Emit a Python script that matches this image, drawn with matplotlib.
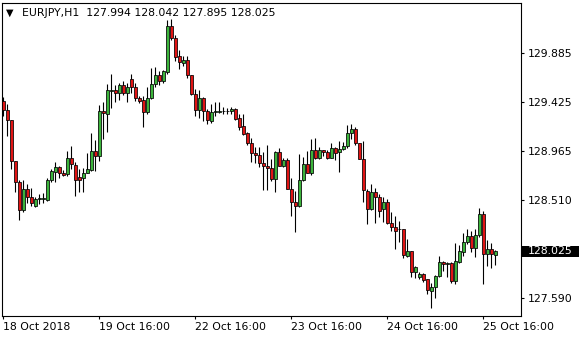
import matplotlib.pyplot as plt
import matplotlib.transforms as mtransforms
from matplotlib.patches import Rectangle

W, H = 580, 340

# EURJPY H1, one value per candle
opens = [
    129.437, 129.352, 129.258, 128.873, 128.676, 128.413, 128.610, 128.535, 128.451, 128.516,
    128.516, 128.507, 128.695, 128.770, 128.817, 128.761, 128.751, 128.901, 128.836, 128.723,
    128.714, 128.761, 128.789, 128.967, 128.920, 129.343, 129.315, 129.530, 129.540, 129.512,
    129.587, 129.512, 129.643, 129.568, 129.465, 129.446, 129.333, 129.465, 129.596, 129.681,
    129.624, 129.709, 130.141, 130.028, 129.859, 129.793, 129.822, 129.681, 129.502, 129.352,
    129.465, 129.343, 129.249, 129.338, 129.333, 129.343, 129.346, 129.343, 129.361, 129.277,
    129.202, 129.136, 129.042, 128.948, 128.930, 128.854, 128.826, 128.807, 128.704, 128.958,
    128.826, 128.883, 128.610, 128.488, 128.451, 128.695, 128.845, 128.761, 128.976, 128.901,
    128.976, 128.958, 128.901, 128.995, 128.958, 128.986, 129.014, 129.136, 129.174, 129.042,
    128.892, 128.592, 128.422, 128.582, 128.535, 128.422, 128.488, 128.291, 128.253, 128.235,
    128.235, 127.981, 128.028, 127.831, 127.784, 127.812, 127.765, 127.653, 127.690, 127.793,
    127.925, 127.906, 127.915, 127.746, 127.925, 128.019, 128.113, 128.169, 128.056, 128.178,
    128.376, 128.000, 128.047, 127.994,
]
highs = [
    129.474, 129.408, 129.258, 128.873, 128.695, 128.695, 128.657, 128.620, 128.535, 128.563,
    128.573, 128.714, 128.798, 128.864, 128.826, 128.789, 128.967, 129.014, 128.864, 128.798,
    128.807, 128.948, 129.136, 129.070, 129.399, 129.427, 129.596, 129.690, 129.587, 129.606,
    129.624, 129.606, 129.690, 129.606, 129.484, 129.484, 129.568, 129.746, 129.756, 129.718,
    129.728, 130.197, 130.207, 130.056, 129.915, 129.859, 129.859, 129.681, 129.549, 129.540,
    129.474, 129.361, 129.408, 129.427, 129.427, 129.380, 129.371, 129.380, 129.371, 129.315,
    129.315, 129.146, 129.089, 129.005, 129.005, 128.958, 129.023, 128.892, 128.967, 128.995,
    128.901, 128.901, 128.714, 128.592, 128.939, 128.911, 128.967, 129.080, 129.089, 129.005,
    128.976, 128.976, 129.042, 129.005, 129.061, 129.052, 129.211, 129.221, 129.192, 129.042,
    129.061, 128.610, 128.657, 128.620, 128.563, 128.535, 128.516, 128.394, 128.357, 128.310,
    128.235, 128.141, 128.028, 127.887, 127.831, 127.822, 127.765, 127.728, 127.803, 127.981,
    127.934, 127.925, 127.925, 128.103, 128.084, 128.197, 128.235, 128.216, 128.235, 128.432,
    128.404, 128.131, 128.103, 128.042,
]
lows = [
    129.296, 129.108, 128.798, 128.582, 128.319, 128.394, 128.479, 128.451, 128.441, 128.469,
    128.479, 128.498, 128.676, 128.676, 128.714, 128.732, 128.732, 128.798, 128.545, 128.582,
    128.582, 128.761, 128.779, 128.779, 128.873, 129.080, 129.146, 129.371, 129.427, 129.446,
    129.493, 129.427, 129.512, 129.437, 129.418, 129.192, 129.315, 129.455, 129.568, 129.587,
    129.606, 129.690, 130.009, 129.812, 129.737, 129.765, 129.653, 129.493, 129.296, 129.277,
    129.249, 129.221, 129.230, 129.296, 129.324, 129.315, 129.315, 129.315, 129.258, 129.164,
    129.117, 129.023, 128.864, 128.854, 128.817, 128.601, 128.601, 128.685, 128.582, 128.826,
    128.817, 128.610, 128.357, 128.207, 128.441, 128.685, 128.761, 128.742, 128.892, 128.892,
    128.920, 128.892, 128.901, 128.883, 128.770, 128.976, 128.995, 129.080, 129.023, 128.892,
    128.488, 128.282, 128.413, 128.291, 128.347, 128.300, 128.282, 128.216, 128.047, 128.113,
    127.962, 127.972, 127.784, 127.775, 127.765, 127.737, 127.624, 127.493, 127.587, 127.784,
    127.840, 127.784, 127.728, 127.718, 127.915, 127.981, 128.094, 128.019, 127.972, 128.160,
    127.718, 127.887, 127.868, 127.895,
]
closes = [
    129.352, 129.258, 128.873, 128.676, 128.413, 128.610, 128.535, 128.479, 128.516, 128.526,
    128.526, 128.695, 128.779, 128.817, 128.761, 128.742, 128.901, 128.845, 128.695, 128.695,
    128.761, 128.798, 128.967, 128.920, 129.343, 129.324, 129.540, 129.540, 129.512, 129.587,
    129.512, 129.568, 129.568, 129.465, 129.437, 129.333, 129.465, 129.596, 129.681, 129.624,
    129.718, 130.141, 130.028, 129.850, 129.803, 129.822, 129.681, 129.502, 129.352, 129.465,
    129.343, 129.258, 129.333, 129.343, 129.346, 129.346, 129.346, 129.361, 129.268, 129.192,
    129.127, 129.042, 128.948, 128.930, 128.854, 128.826, 128.807, 128.704, 128.958, 128.826,
    128.883, 128.610, 128.488, 128.451, 128.695, 128.845, 128.761, 128.976, 128.901, 128.976,
    128.958, 128.901, 128.995, 128.948, 128.986, 129.014, 129.136, 129.174, 129.042, 128.892,
    128.601, 128.422, 128.582, 128.535, 128.404, 128.488, 128.291, 128.253, 128.216, 128.235,
    127.991, 128.028, 127.831, 127.878, 127.812, 127.756, 127.662, 127.690, 127.793, 127.925,
    127.906, 127.915, 127.746, 127.934, 128.028, 128.113, 128.169, 128.056, 128.178, 128.376,
    128.000, 128.047, 128.000, 128.025,
]

tick_bars = [0, 24, 48, 72, 96, 120]
tick_labels = ["18 Oct 2018", "19 Oct 16:00", "22 Oct 16:00", "23 Oct 16:00",
               "24 Oct 16:00", "25 Oct 16:00"]
price_ticks = [129.885, 129.425, 128.965, 128.510, 127.590]
price_labels = ["129.885", "129.425", "128.965", "128.510", "127.590"]
symbol = "EURJPY,H1"
last_price = 128.025

BULL = "#3cb43c"
BEAR = "#e01414"
FS = 7.8

plt.rcParams["font.family"] = "DejaVu Sans"

fig = plt.figure(figsize=(W / 100, H / 100), dpi=100)
# plot frame in pixels: x 2..521, y 3..316 from the top
ax = fig.add_axes([2 / W, (H - 316) / H, 519 / W, 313 / H])

n = len(opens)
xs = list(range(n))
ax.vlines(xs, lows, highs, color="black", linewidth=0.8, zorder=2)
for i in range(n):
    o, c = opens[i], closes[i]
    fill = BULL if c >= o else BEAR
    ax.bar(i, abs(c - o), bottom=min(o, c), width=0.72, color=fill,
           edgecolor="black", linewidth=0.55, zorder=3)

ax.set_xlim(-0.325, 129.425)
ax.set_ylim(127.418, 130.357)

for side in ax.spines.values():
    side.set_color("black")
    side.set_linewidth(0.8)

ax.set_xticks(tick_bars)
ax.set_xticklabels(tick_labels, ha="left")
ax.tick_params(axis="x", length=2.2, width=0.8, pad=2, labelsize=FS)

ax.yaxis.tick_right()
ax.set_yticks(price_ticks)
ax.set_yticklabels(price_labels)
ax.tick_params(axis="y", length=2.2, width=0.8, pad=3, labelsize=FS)

# current price box on the right scale
trans = mtransforms.blended_transform_factory(ax.transAxes, ax.transData)
ax.add_patch(Rectangle((1.0015, last_price - 0.054), 57 / 519, 0.108,
                       transform=trans, facecolor="black", edgecolor="none",
                       clip_on=False, zorder=5))
ax.text(1.0135, last_price, f"{last_price:.3f}", transform=trans, color="white",
        fontsize=FS, va="center", ha="left", zorder=6)

# header: symbol and OHLC of the last bar
hdr = f"{symbol}  {opens[-1]:.3f} {highs[-1]:.3f} {lows[-1]:.3f} {closes[-1]:.3f}"
fig.text(5.5 / W, 1 - 12.5 / H, "\u25bc", fontsize=7, va="center", ha="left")
fig.text(21.5 / W, 1 - 12.5 / H, hdr, fontsize=FS, va="center", ha="left")

fig.savefig("out.png", dpi=100, facecolor="white")
